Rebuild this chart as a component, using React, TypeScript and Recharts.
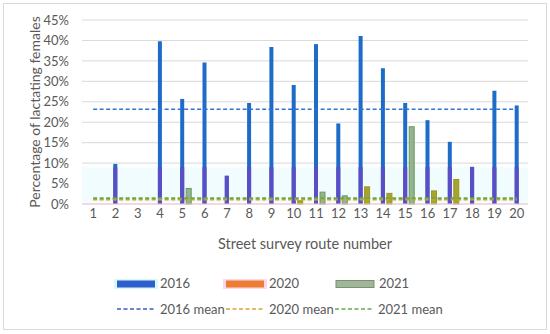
import React from 'react';
import { BarChart, Bar, XAxis, YAxis, CartesianGrid, ReferenceLine, ReferenceArea } from 'recharts';

const categories = ['1','2','3','4','5','6','7','8','9','10','11','12','13','14','15','16','17','18','19','20'];
const values2016 = [0, 9.8, 0, 39.8, 25.7, 34.6, 6.9, 24.7, 38.4, 29.1, 39.1, 19.7, 41.1, 33.2, 24.7, 20.5, 15.2, 9.1, 27.7, 24.1];
const values2020 = [0, 0, 0, 0, 0, 0, 0, 0, 0, 0.8, 0, 0, 4.2, 2.6, 0, 3.2, 6.0, 0, 0, 0];
const values2021 = [0, 0, 0, 0, 3.8, 0, 0, 0, 0, 0, 2.9, 2.0, 0, 0, 18.9, 0, 0, 0, 0, 0];
const mean2016 = 23.2;
const mean2020 = 1.1;
const mean2021 = 1.4;
const yTicks = [0, 5, 10, 15, 20, 25, 30, 35, 40, 45];

const data = categories.map((c, i) => ({ cat: c, v2016: values2016[i], v2020: values2020[i], v2021: values2021[i] }));

const FONT = 'Lato, "Open Sans", sans-serif';
const TEXT = '#595959';

const Shape2016 = (p: any) => {
  const { x, y, width, height, value } = p;
  if (!height || height <= 0) return null;
  const v = Array.isArray(value) ? value[1] - value[0] : value;
  const per = height / v;
  const low = Math.min(v, 9) * per;
  return (
    <g>
      <rect x={x} y={y} width={width} height={height} fill="#1E6CC8" />
      <rect x={x} y={y + height - low} width={width} height={low} fill="#5A4DC6" />
    </g>
  );
};

const makeShifted = (fill: string, stroke: string) => (p: any) => {
  const { x, y, width, height } = p;
  if (!height || height <= 0) return null;
  return <rect x={x + 6} y={y} width={width} height={height} fill={fill} stroke={stroke} strokeWidth={1} />;
};

const Legend2 = () => {
  const items1 = [
    { label: '2016', x: 117, fill: '#2E5FCC', halo: '#D8F8FA' },
    { label: '2020', x: 226, fill: '#ED7D31', halo: '#FBD8EC' },
    { label: '2021', x: 336, fill: '#A3B3A0', halo: 'none', stroke: '#6F9A5E' },
  ];
  const items2 = [
    { label: '2016 mean', x: 117, color: '#3A5BC0' },
    { label: '2020 mean', x: 226, color: '#D9A33A' },
    { label: '2021 mean', x: 335, color: '#6AA84F' },
  ];
  return (
    <svg width={550} height={334} style={{ position: 'absolute', left: 0, top: 0, pointerEvents: 'none' }}>
      {items1.map((it) => (
        <g key={it.label}>
          {it.halo !== 'none' && <rect x={it.x - 3} y={279} width={44} height={10} fill={it.halo} />}
          <rect x={it.x} y={280.5} width={38} height={7} fill={it.fill} stroke={(it as any).stroke || 'none'} />
          <text x={it.x + 43} y={288} fontSize={13} fill={TEXT} fontFamily={FONT}>{it.label}</text>
        </g>
      ))}
      {items2.map((it) => (
        <g key={it.label}>
          <line x1={it.x} x2={it.x + 38} y1={309} y2={309} stroke={it.color} strokeWidth={1.5} strokeDasharray="4 2.5" />
          <text x={it.x + 43} y={313.5} fontSize={13} fill={TEXT} fontFamily={FONT}>{it.label}</text>
        </g>
      ))}
    </svg>
  );
};

export default function App() {
  return (
    <div style={{ position: 'absolute', left: 0, top: 0, width: 550, height: 334, background: '#fff', fontFamily: FONT }}>
      <div style={{ position: 'absolute', left: 3, top: 3, width: 542, height: 325, border: '1px solid #D9D9D9' }} />
      <BarChart
        width={550}
        height={334}
        data={data}
        margin={{ top: 20, right: 22, left: 0, bottom: 100 }}
        style={{ position: 'absolute', left: 0, top: 0 }}
      >
        <CartesianGrid vertical={false} stroke="#D9D9D9" />
        <ReferenceArea y1={0.4} y2={9} fill="#F0FCFD" fillOpacity={1} stroke="none" />
        <XAxis
          dataKey="cat"
          axisLine={{ stroke: '#F2C6D8' }}
          tickLine={false}
          tickSize={0}
          tickMargin={5}
          height={30}
          interval={0}
          tick={{ fontSize: 13, fill: TEXT, fontFamily: FONT }}
        />
        <XAxis dataKey="cat" xAxisId="b" hide />
        <YAxis
          width={82}
          domain={[0, 45]}
          ticks={yTicks}
          interval={0}
          axisLine={false}
          tickLine={false}
          tickSize={0}
          tickMargin={13}
          tickFormatter={(v: number) => `${v}%`}
          tick={{ fontSize: 13, fill: TEXT, fontFamily: FONT }}
        />
        <Bar dataKey="v2016" barSize={4} shape={Shape2016} isAnimationActive={false} />
        <Bar dataKey="v2020" xAxisId="b" stackId="s" barSize={5} shape={makeShifted('#A8A32B', '#9A962A')} isAnimationActive={false} />
        <Bar dataKey="v2021" xAxisId="b" stackId="s" barSize={5} shape={makeShifted('#93B48C', '#6A9A5E')} isAnimationActive={false} />
        <ReferenceLine segment={[{ x: '1', y: mean2016 }, { x: '20', y: mean2016 }]} stroke="#2E75D0" strokeWidth={1.5} strokeDasharray="4 2.5" />
        <ReferenceLine segment={[{ x: '1', y: mean2020 }, { x: '20', y: mean2020 }]} stroke="#D9A520" strokeWidth={2} strokeDasharray="4 2.5" />
        <ReferenceLine segment={[{ x: '1', y: mean2021 }, { x: '20', y: mean2021 }]} stroke="#6AA84F" strokeWidth={2} strokeDasharray="4 2.5" />
      </BarChart>
      <svg width={550} height={334} style={{ position: 'absolute', left: 0, top: 0, pointerEvents: 'none' }}>
        <text x={34} y={112} transform="rotate(-90 34 112)" textAnchor="middle" dominantBaseline="central" fontSize={14} fill={TEXT} fontFamily={FONT}>
          Percentage of lactating females
        </text>
        <text x={305} y={243} textAnchor="middle" dominantBaseline="central" fontSize={14.5} fill={TEXT} fontFamily={FONT}>
          Street survey route number
        </text>
      </svg>
      <Legend2 />
    </div>
  );
}
